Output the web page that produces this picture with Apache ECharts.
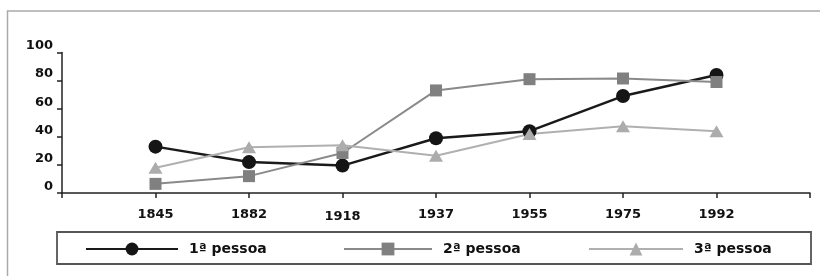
<!DOCTYPE html>
<html>
<head>
<meta charset="utf-8">
<script src="https://cdn.jsdelivr.net/npm/echarts@6/dist/echarts.min.js"></script>
<style>
  html, body { margin: 0; padding: 0; background: #fff; }
</style>
</head>
<body>
<div id="chart" style="width: 820px; height: 276px;"></div>
<script>
// anos (com uma posição vazia em cada ponta do eixo)
const years = ['', '1845', '1882', '1918', '1937', '1955', '1975', '1992', ''];
const pessoa1 = ['-', 33, 22, 19.5, 39, 44, 69, 84, '-'];
const pessoa2 = ['-', 6.5, 12, 28.5, 73, 81, 81.5, 79, '-'];
const pessoa3 = ['-', 18, 32.5, 34, 26.5, 42, 47.5, 44, '-'];
const yTicks = [0, 20, 40, 60, 80, 100];
const names = ['1ª pessoa', '2ª pessoa', '3ª pessoa'];

const font = 'DejaVu Sans';
const chart = echarts.init(document.getElementById('chart'));

const catData = years.map(function (y) {
  if (y === '1918') return { value: y, textStyle: { padding: [2, 0, 0, 0] } };
  return y;
});

function legendAt(left, width, name) {
  return {
    left: left,
    top: 242,
    padding: 0,
    data: [name],
    itemWidth: width,
    itemHeight: 16,
    selectedMode: false,
    textStyle: { fontFamily: font, fontWeight: 'bold', fontSize: 14, color: '#111', padding: [0, 0, 0, 6] }
  };
}

chart.setOption({
  animation: false,
  graphic: [
    { type: 'polyline', shape: { points: [[7.5, 276], [7.5, 11], [820, 11]] },
      style: { stroke: '#aaa', lineWidth: 1.5, fill: null }, silent: true },
    { type: 'rect', shape: { x: 57, y: 232, width: 754, height: 32 },
      style: { stroke: '#555', lineWidth: 1.8, fill: null }, silent: true }
  ],
  legend: [legendAt(85, 92, names[0]), legendAt(343, 88, names[1]), legendAt(588, 94, names[2])],
  grid: { left: 62, right: 10, top: 52.5, bottom: 83 },
  xAxis: {
    type: 'category',
    data: catData,
    boundaryGap: false,
    axisLine: { lineStyle: { color: '#222', width: 1.5 } },
    axisTick: { interval: 0, length: 5, lineStyle: { color: '#222', width: 1.5 } },
    axisLabel: { interval: 0, margin: 15, fontFamily: font, fontWeight: 'bold', fontSize: 13, color: '#111' }
  },
  yAxis: {
    type: 'value',
    min: yTicks[0],
    max: yTicks[yTicks.length - 1],
    interval: 20,
    splitLine: { show: false },
    axisLine: { show: true, lineStyle: { color: '#222', width: 1.5 } },
    axisTick: { show: true, length: 5, lineStyle: { color: '#222', width: 1.5 } },
    axisLabel: { margin: 9, verticalAlign: 'bottom', lineHeight: 13, fontFamily: font, fontWeight: 'bold', fontSize: 13, color: '#111' }
  },
  series: [
    {
      name: names[0], type: 'line', data: pessoa1,
      symbol: 'circle', symbolSize: 14,
      itemStyle: { color: '#151515' },
      lineStyle: { color: '#1a1a1a', width: 2.5 }
    },
    {
      name: names[1], type: 'line', data: pessoa2,
      symbol: 'rect', symbolSize: 12,
      itemStyle: { color: '#808080' },
      lineStyle: { color: '#8a8a8a', width: 2 }
    },
    {
      name: names[2], type: 'line', data: pessoa3,
      symbol: 'triangle', symbolSize: [14, 12],
      itemStyle: { color: '#acacac' },
      lineStyle: { color: '#b0b0b0', width: 2 }
    }
  ]
});
</script>
</body>
</html>
